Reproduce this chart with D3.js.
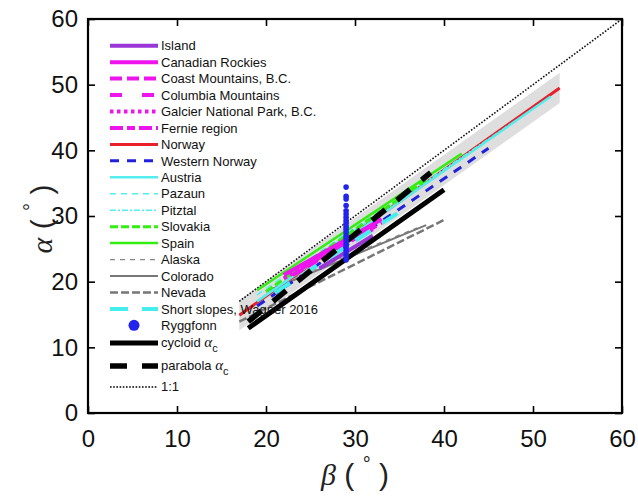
<!DOCTYPE html>
<html>
<head>
<meta charset="utf-8">
<script src="https://cdn.jsdelivr.net/npm/d3@7"></script>
<style>
    body { margin: 0; background: #fff; }
    svg { display: block; }
    text { font-family: 'Liberation Sans', Arial, sans-serif; }
</style>
</head>
<body>
<div class="canvas"></div>
<script>
// series (in legend order)
const seriesNames = [
    'Island', 'Canadian Rockies', 'Coast Mountains, B.C.', 'Columbia Mountains',
    'Galcier National Park, B.C.', 'Fernie region', 'Norway', 'Western Norway',
    'Austria', 'Pazaun', 'Pitztal', 'Slovakia', 'Spain', 'Alaska', 'Colorado',
    'Nevada', 'Short slopes, Wagner 2016'
];
// beta start / end, alpha start / end of each regression line (degrees)
const seriesBeta = [
    [26, 32], [22, 33], [23, 33], [24, 32],
    [22, 31], [25, 32], [17, 53], [19, 45],
    [19, 52], [19, 33], [22, 48], [20, 38], [19, 42], [22, 37], [20, 38],
    [17, 40], [21, 36]
];
const seriesAlpha = [
    [22.0, 27.0], [21.0, 29.5], [21.0, 29.0], [22.0, 28.5],
    [20.5, 27.5], [23.0, 28.0], [14.9, 49.5], [16.3, 40.3],
    [17.0, 48.2], [18.0, 31.0], [20.5, 44.5], [18.5, 35.5], [18.7, 39.5], [20.0, 28.2], [18.5, 28.6],
    [13.9, 29.4], [18.3, 31.5]
];
// Norway standard deviation band
const bandSd = 2.3;

// Ryggfonn observations
const ryggfonnBeta = 29;
const ryggfonnAlpha = [34.4, 33.0, 32.6, 31.6, 30.8, 30.3, 29.8, 29.3, 28.9, 28.4, 28.0,
    27.5, 27.0, 26.6, 26.1, 25.6, 25.2, 24.7, 24.2, 23.8, 23.3];

// alpha_c curves
const cycloidBeta = [18, 40];
const cycloidAlpha = [12.9, 34.0];
const parabolaBeta = [18, 38.5];
const parabolaAlpha = [13.9, 36.6];
const oneToOne = [17, 60];

const xTicks = [0, 10, 20, 30, 40, 50, 60];
const yTicks = [0, 10, 20, 30, 40, 50, 60];

// styles
const seriesStyle = [
    { c: '#9a35d8', w: 4, d: null },
    { c: '#ee14ee', w: 4, d: null },
    { c: '#ee14ee', w: 4, d: '12,5' },
    { c: '#ee14ee', w: 4, d: '12,20' },
    { c: '#ee14ee', w: 4, d: '3.5,3.5' },
    { c: '#ee14ee', w: 4, d: '13,4,8,4' },
    { c: '#e8202a', w: 3, d: null },
    { c: '#2020dd', w: 3, d: '9,8' },
    { c: '#55eeee', w: 2.5, d: null },
    { c: '#55eeee', w: 1.5, d: '6,5' },
    { c: '#55eeee', w: 1.5, d: '6,2,2,2' },
    { c: '#33ee11', w: 3, d: '8,3' },
    { c: '#33ee11', w: 2.5, d: null },
    { c: '#888888', w: 1.3, d: '5,5' },
    { c: '#777777', w: 2, d: null },
    { c: '#777777', w: 2.5, d: '8,3' },
    { c: '#44eeee', w: 4, d: '18,14' }
];
const drawOrder = [13, 14, 15, 6, 8, 9, 10, 7, 12, 11, 1, 2, 3, 4, 5, 0, 16];

const width = 638, height = 499;
const svg = d3.select('.canvas')
    .append('svg')
    .attr('width', width)
    .attr('height', height)
;

const x = d3.scaleLinear().domain([0, 60]).range([88, 622]);
const y = d3.scaleLinear().domain([0, 60]).range([413, 19]);

svg.append('clipPath').attr('id', 'clip')
    .append('rect')
    .attr('x', x(0)).attr('y', y(60))
    .attr('width', x(60) - x(0)).attr('height', y(0) - y(60));

const plot = svg.append('g').attr('clip-path', 'url(#clip)');

// grey band around Norway line
const nb = seriesBeta[6], na = seriesAlpha[6];
const area = d3.area()
    .x(d => x(d[0]))
    .y0(d => y(d[1] - bandSd))
    .y1(d => y(d[1] + bandSd));
plot.append('path')
    .datum([[nb[0], na[0]], [nb[1], na[1]]])
    .attr('fill', '#dedede')
    .attr('d', area);

const line = d3.line().x(d => x(d[0])).y(d => y(d[1]));

// 1:1 line
plot.append('path')
    .datum(oneToOne.map(v => [v, v]))
    .attr('fill', 'none')
    .attr('stroke', '#111')
    .attr('stroke-width', 1.6)
    .attr('stroke-dasharray', '1.6,1.6')
    .attr('d', line);

drawOrder.forEach(i => {
    const s = seriesStyle[i];
    plot.append('path')
        .datum([[seriesBeta[i][0], seriesAlpha[i][0]], [seriesBeta[i][1], seriesAlpha[i][1]]])
        .attr('fill', 'none')
        .attr('stroke', s.c)
        .attr('stroke-width', s.w)
        .attr('stroke-dasharray', s.d)
        .attr('d', line);
});

// alpha_c curves
plot.append('path')
    .datum([[cycloidBeta[0], cycloidAlpha[0]], [cycloidBeta[1], cycloidAlpha[1]]])
    .attr('fill', 'none').attr('stroke', '#000').attr('stroke-width', 5)
    .attr('d', line);
plot.append('path')
    .datum([[parabolaBeta[0], parabolaAlpha[0]], [parabolaBeta[1], parabolaAlpha[1]]])
    .attr('fill', 'none').attr('stroke', '#000').attr('stroke-width', 5.5)
    .attr('stroke-dasharray', '17,15')
    .attr('d', line);

// Ryggfonn points
plot.selectAll('circle.ryg')
    .data(ryggfonnAlpha)
    .enter()
    .append('circle')
        .attr('class', 'ryg')
        .attr('cx', x(ryggfonnBeta))
        .attr('cy', d => y(d))
        .attr('r', 2.8)
        .attr('fill', '#2323ee')
;

// axes
const minor = d3.range(0, 61, 2);
const addAxis = (axisFn, scale, transform, ticks, labels) => {
    const g = svg.append('g').attr('transform', transform);
    g.call(axisFn(scale).tickValues(minor).tickSize(-3.5).tickFormat(''));
    g.call(axisFn(scale).tickValues(ticks).tickSize(-7)
        .tickPadding(axisFn === d3.axisBottom ? 17 : 10)
        .tickFormat(labels ? d3.format('d') : ''));
    g.selectAll('.domain').remove();
    g.selectAll('line').attr('stroke', '#000').attr('stroke-width', 1.6);
    g.selectAll('text').attr('font-size', 24).attr('fill', '#111')
        .style('font-family', "'Liberation Sans', Arial, sans-serif");
    return g;
};
addAxis(d3.axisBottom, x, `translate(0, ${y(0)})`, xTicks, true);
addAxis(d3.axisTop, x, `translate(0, ${y(60)})`, xTicks, false);
addAxis(d3.axisLeft, y, `translate(${x(0)}, 0)`, yTicks, true);
addAxis(d3.axisRight, y, `translate(${x(60)}, 0)`, yTicks, false);

svg.append('rect')
    .attr('x', x(0)).attr('y', y(60))
    .attr('width', x(60) - x(0)).attr('height', y(0) - y(60))
    .attr('fill', 'none').attr('stroke', '#000').attr('stroke-width', 2.2);

// axis titles
const xTitle = svg.append('text')
    .attr('x', 355).attr('y', 485)
    .attr('text-anchor', 'middle')
    .attr('font-size', 30)
    .attr('fill', '#222');
xTitle.append('tspan').text('β').attr('font-style', 'italic')
    .style('font-family', "'Liberation Serif', serif");
xTitle.append('tspan').text(' ( ');
xTitle.append('tspan').text('°').attr('font-size', 20).attr('dy', -14);
xTitle.append('tspan').text(' )').attr('dy', 14);

const yTitle = svg.append('text')
    .attr('transform', 'translate(52, 219) rotate(-90)')
    .attr('text-anchor', 'middle')
    .attr('font-size', 30)
    .attr('fill', '#222');
yTitle.append('tspan').text('α').attr('font-style', 'italic')
    .style('font-family', "'Liberation Serif', serif");
yTitle.append('tspan').text(' ( ');
yTitle.append('tspan').text('°').attr('font-size', 20).attr('dy', -14);
yTitle.append('tspan').text(' )').attr('dy', 14);

// legend
const legend = svg.append('g');
const rowY = i => 45.7 + i * 16.45;
seriesNames.forEach((name, i) => {
    const s = seriesStyle[i];
    legend.append('line')
        .attr('x1', 110).attr('x2', 158)
        .attr('y1', rowY(i)).attr('y2', rowY(i))
        .attr('stroke', s.c).attr('stroke-width', s.w)
        .attr('stroke-dasharray', s.d);
    legend.append('text')
        .attr('x', 161).attr('y', rowY(i)).attr('dy', '0.36em')
        .attr('font-size', 13).attr('fill', '#111')
        .text(name);
});
const rI = seriesNames.length;
legend.append('circle').attr('cx', 134).attr('cy', rowY(rI)).attr('r', 5.5).attr('fill', '#2323ee');
legend.append('text').attr('x', 161).attr('y', rowY(rI)).attr('dy', '0.36em')
    .attr('font-size', 13).attr('fill', '#111').text('Ryggfonn');

const extra = [
    { y: 343, name: 'cycloid ', sub: true, w: 5, d: null },
    { y: 366, name: 'parabola ', sub: true, w: 5.5, d: '17,15' },
    { y: 387, name: '1:1', sub: false, w: 1.6, d: '1.6,1.6' }
];
extra.forEach(e => {
    legend.append('line')
        .attr('x1', 110).attr('x2', 158)
        .attr('y1', e.y).attr('y2', e.y)
        .attr('stroke', '#000').attr('stroke-width', e.w)
        .attr('stroke-dasharray', e.d);
    const t = legend.append('text')
        .attr('x', 161).attr('y', e.y - 1).attr('dy', '0.36em')
        .attr('font-size', 13).attr('fill', '#111');
    t.append('tspan').text(e.name);
    if (e.sub) {
        t.append('tspan').text('α').attr('font-style', 'italic').attr('font-size', 15)
            .style('font-family', "'Liberation Serif', serif");
        t.append('tspan').text('c').attr('font-size', 11).attr('dy', 5);
    }
});
</script>
</body>
</html>
